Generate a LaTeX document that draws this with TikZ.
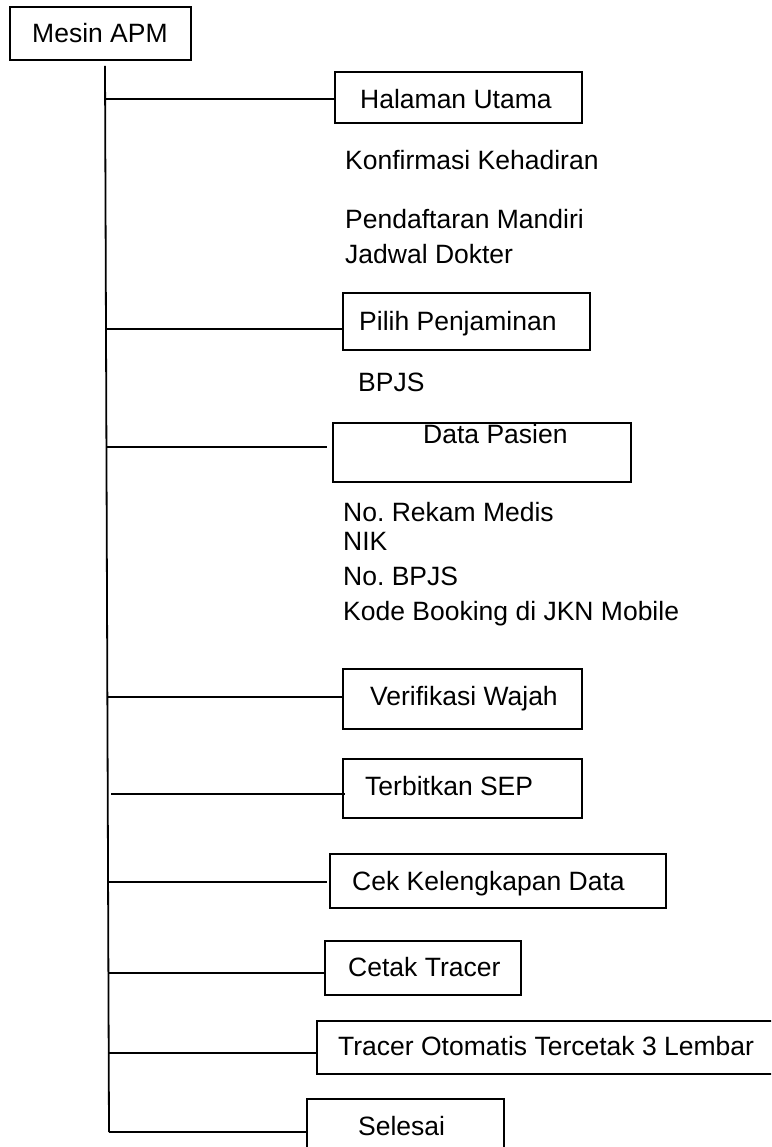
\documentclass[tikz,border=0pt]{standalone}
\usepackage{fontspec}
\setmainfont{Liberation Sans}
\frenchspacing
\begin{document}
\begin{tikzpicture}[x=1pt,y=-1pt,
  box/.style={draw,line width=1.8pt,inner sep=0pt,rectangle},
  lbl/.style={inner sep=0pt,anchor=base west,font=\fontsize{26.5}{30}\selectfont},
  conn/.style={line width=1.8pt}]
\useasboundingbox (0,0) rectangle (771,1147);
\clip (0,0) rectangle (771,1147);
% boxes
\node[box,minimum width=181pt,minimum height=53pt] (mesin) at (100.5,33.5) {};
\node[box,minimum width=247pt,minimum height=51pt] (hal) at (458.5,97.5) {};
\node[box,minimum width=247pt,minimum height=57pt] (pilih) at (466.5,321.5) {};
\node[box,minimum width=298pt,minimum height=59pt] (data) at (482,452.5) {};
\node[box,minimum width=239pt,minimum height=60pt] (verif) at (462.5,699) {};
\node[box,minimum width=239pt,minimum height=59pt] (sep) at (462.5,788.5) {};
\node[box,minimum width=336pt,minimum height=54pt] (cek) at (498,881) {};
\node[box,minimum width=196pt,minimum height=54pt] (cetak) at (423,968) {};
\node[box,minimum width=463pt,minimum height=53pt] (tracer) at (548.5,1047.5) {};
\node[box,minimum width=197pt,minimum height=61pt] (selesai) at (405.5,1129.5) {};
% texts
\node[lbl] (tmesin) at (32,42.5) {Mesin APM};
\node[lbl] (thal) at (360,108.3) {Halaman Utama};
\node[lbl] (tkonf) at (345,170) {Konfirmasi Kehadiran};
\node[lbl] (tpend) at (345,228.3) {Pendaftaran Mandiri};
\node[lbl] (tjadw) at (345,263.3) {Jadwal Dokter};
\node[lbl] (tpilih) at (359,330) {Pilih Penjaminan};
\node[lbl] (tbpjs) at (358,391.7) {BPJS};
\node[lbl] (tdata) at (423,443.3) {Data Pasien};
\node[lbl] (trm) at (343,521.7) {No. Rekam Medis};
\node[lbl] (tnik) at (343,550) {NIK};
\node[lbl] (tnob) at (343,585) {No. BPJS};
\node[lbl] (tkode) at (343,620.7) {Kode Booking di JKN Mobile};
\node[lbl] (tverif) at (370,705) {Verifikasi Wajah};
\node[lbl] (tsep) at (365,795) {Terbitkan SEP};
\node[lbl] (tcek) at (352,890) {Cek Kelengkapan Data};
\node[lbl] (tcetak) at (348,976) {Cetak Tracer};
\node[lbl] (ttracer) at (338,1055.7) {Tracer Otomatis Tercetak 3 Lembar};
\node[lbl] (tsel) at (358,1135) {Selesai};
% trunk
\coordinate (top) at (105,66);
\coordinate (bot) at (109,1132);
\draw[conn] (top) -- (bot);
% branch points
\coordinate (b1) at (105.1,99);
\coordinate (b2) at (106.0,329);
\coordinate (b3) at (106.4,447);
\coordinate (b4) at (107.4,697);
\coordinate (b5) at (111,794);
\coordinate (b6) at (108.1,882);
\coordinate (b7) at (108.4,973);
\coordinate (b8) at (108.7,1053);
\draw[conn] (b1) -- (hal.west |- b1);
\draw[conn] (b2) -- (pilih.west |- b2);
\draw[conn] (b3) -- ([xshift=-5pt]data.west |- b3);
\draw[conn] (b4) -- (verif.west |- b4);
\draw[conn] (b5) -- ([xshift=3pt]sep.west |- b5);
\draw[conn] (b6) -- ([xshift=-2pt]cek.west |- b6);
\draw[conn] (b7) -- (cetak.west |- b7);
\draw[conn] (b8) -- (tracer.west |- b8);
\draw[conn] (bot) -- (selesai.west |- bot);
\end{tikzpicture}
\end{document}
